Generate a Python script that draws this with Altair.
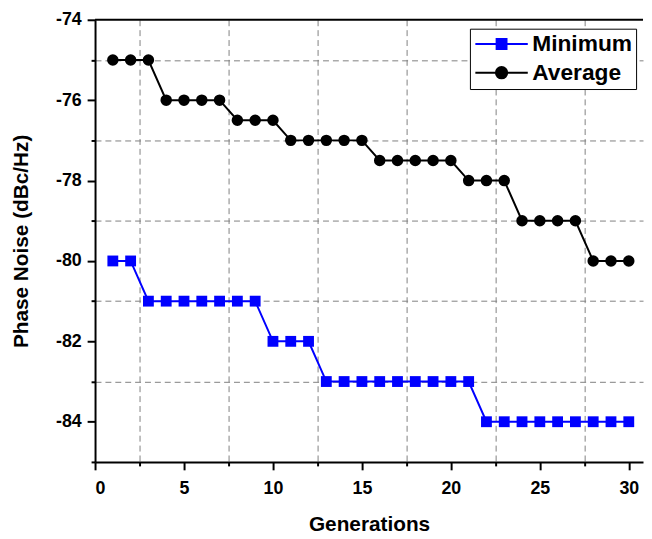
import altair as alt
import pandas as pd

generations = list(range(1, 31))
minimum = [-80, -80, -81, -81, -81, -81, -81, -81, -81, -82,
           -82, -82, -83, -83, -83, -83, -83, -83, -83, -83,
           -83, -84, -84, -84, -84, -84, -84, -84, -84, -84]
average = [-75, -75, -75, -76, -76, -76, -76, -76.5, -76.5, -76.5,
           -77, -77, -77, -77, -77, -77.5, -77.5, -77.5, -77.5, -77.5,
           -78, -78, -78, -79, -79, -79, -79, -80, -80, -80]
series_names = ["Minimum", "Average"]
series_colors = ["#0000ff", "#000000"]
x_ticks = [0, 2.5, 5, 7.5, 10, 12.5, 15, 17.5, 20, 22.5, 25, 27.5, 30]
y_ticks = [-85, -84, -83, -82, -81, -80, -79, -78, -77, -76, -75, -74]
top_edge = [-74]

df = pd.DataFrame({
    "Generations": generations * 2,
    "value": minimum + average,
    "series": ["Minimum"] * len(minimum) + ["Average"] * len(average),
})

FONT = "Liberation Sans"

xaxis = alt.Axis(
    title="Generations", values=x_ticks,
    labelExpr="datum.value % 5 == 0 ? datum.label : ''",
    grid=True, gridDash=[6, 4], gridColor="#808080", gridWidth=1,
    gridOpacity={"condition": {"test": "datum.value % 5 != 0", "value": 1}, "value": 0},
    tickSize={"condition": {"test": "datum.value % 5 != 0", "value": 4}, "value": 8},
    tickColor="black", tickWidth=2, domainColor="black", domainWidth=2,
    labelPadding=10, titlePadding=16,
)
yaxis = alt.Axis(
    title="Phase Noise (dBc/Hz)", values=y_ticks,
    labelExpr="datum.value % 2 == 0 ? ('' + datum.value) : ''",
    grid=True, gridDash=[6, 4], gridColor="#808080", gridWidth=1,
    gridOpacity={"condition": {"test": "abs(datum.value) % 2 == 1 && datum.value > -85", "value": 1}, "value": 0},
    tickSize={"condition": {"test": "abs(datum.value) % 2 == 1", "value": 4}, "value": 8},
    tickColor="black", tickWidth=2, domainColor="black", domainWidth=2,
    labelPadding=6, titlePadding=24,
)
xscale = alt.Scale(domain=[0, 30.8], nice=False, zero=False)
yscale = alt.Scale(domain=[-85, -74], nice=False, zero=False)

X = alt.X("Generations:Q", scale=xscale, axis=xaxis)
Y = alt.Y("value:Q", scale=yscale, axis=yaxis)

base = alt.Chart(df)
min_data = base.transform_filter(alt.datum.series == "Minimum")
avg_data = base.transform_filter(alt.datum.series == "Average")

min_line = min_data.mark_line(strokeWidth=2, color=series_colors[0]).encode(x=X, y=Y)
min_pts = min_data.mark_point(shape="square", filled=True, size=120, opacity=1,
                              color=series_colors[0]).encode(x=X, y=Y)
avg_line = avg_data.mark_line(strokeWidth=2, color=series_colors[1]).encode(x=X, y=Y)
avg_pts = avg_data.mark_point(shape="circle", filled=True, size=135, opacity=1,
                              color=series_colors[1]).encode(x=X, y=Y)

# legend symbols: a line with the marker in the middle
sq_path = "M-1,0H4.3M1.15,-0.5H2.15V0.5H1.15Z"
ci_path = "M2.22,0A0.57,0.57 0 1 1 1.08,0A0.57,0.57 0 1 1 2.22,0Z M-1,0H4.3"

legend = alt.Legend(
    title=None, orient="none", legendX=379, legendY=9,
    strokeColor="black", fillColor="white", padding=4,
    labelFont=FONT, labelFontSize=23, labelFontWeight="bold", labelColor="black",
    labelOffset=36, symbolSize=400, symbolStrokeWidth=2, symbolOpacity=1,
    rowPadding=5,
)
ghost = base.transform_filter("false").mark_point(strokeWidth=2, opacity=1).encode(
    x=X, y=Y,
    fill=alt.Fill("series:N", scale=alt.Scale(domain=series_names, range=series_colors), legend=legend),
    stroke=alt.Stroke("series:N", scale=alt.Scale(domain=series_names, range=series_colors), legend=legend),
    shape=alt.Shape("series:N", scale=alt.Scale(domain=series_names, range=[sq_path, ci_path]), legend=legend),
)

border = alt.Chart(pd.DataFrame({"value": top_edge})).mark_rule(
    color="black", strokeWidth=2
).encode(y=Y)

chart = alt.layer(min_line, avg_line, min_pts, avg_pts, ghost, border).properties(
    width=554, height=447,
    padding={"left": 2, "top": 0, "right": 0, "bottom": 2},
).configure_view(stroke=None).configure_axis(
    labelFont=FONT, labelFontSize=18, labelFontWeight="bold", labelColor="black",
    titleFont=FONT, titleFontSize=21, titleFontWeight="bold", titleColor="black",
)

chart.save("out.html", embed_options={"renderer": "svg", "actions": False})
